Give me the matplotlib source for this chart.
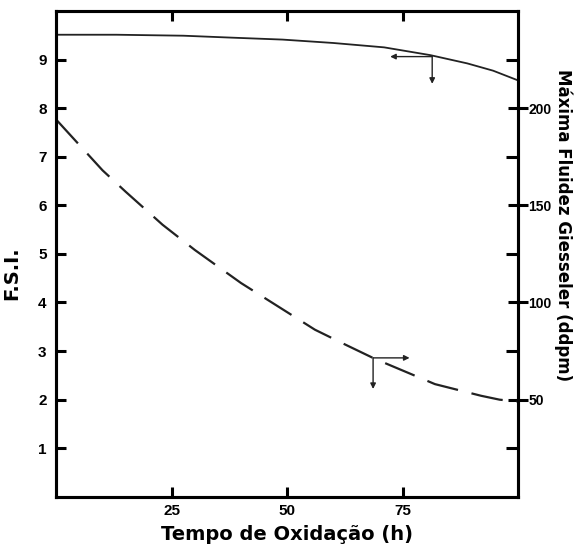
import matplotlib.pyplot as plt
from matplotlib.ticker import FixedLocator

# F.S.I. (left axis) vs oxidation time
fsi_time = [0, 13, 27.5, 38, 49, 60, 71, 81, 89, 94.6, 100]
fsi_vals = [9.51, 9.51, 9.49, 9.45, 9.41, 9.34, 9.25, 9.09, 8.92, 8.77, 8.57]

# Max Gieseler fluidity (right axis, ddpm)
flu_time = [0, 5, 10, 15, 23, 30, 40, 46, 56, 62, 69, 75, 82, 87, 92, 96, 100]
flu_vals = [194, 181, 168, 157, 140, 127, 110, 101, 86, 79, 71, 65, 58, 55, 52, 50, 49]

x_ticks = [25, 50, 75]
left_ticks = [1, 2, 3, 4, 5, 6, 7, 8, 9]
right_major = [50, 100, 150, 200]
right_minor = [25, 75, 125, 175, 225]

fig = plt.figure(figsize=(5.75, 5.46), dpi=100)
ax = fig.add_axes([0.098, 0.090, 0.803, 0.890])
ax2 = ax.twinx()

ax.plot(fsi_time, fsi_vals, color="#222222", lw=1.3)
lw = 1.6
line, = ax2.plot(flu_time, flu_vals, color="#222222", lw=lw)
line.set_dashes((23 / lw, 10 / lw))

ax.set_xlim(0, 100)
ax.set_ylim(0, 10)
ax2.set_ylim(0, 250)

# arrows showing which axis each curve belongs to
arr = dict(arrowstyle="-|>", color="#222222", lw=1.0, mutation_scale=8, shrinkA=0, shrinkB=0)
ax.annotate("", xy=(72.3, 9.06), xytext=(81.4, 9.06), arrowprops=arr)
ax.annotate("", xy=(81.4, 8.50), xytext=(81.4, 9.06), arrowprops=arr)
ax2.annotate("", xy=(76.5, 71.5), xytext=(68.6, 71.5), arrowprops=arr)
ax2.annotate("", xy=(68.6, 55.5), xytext=(68.6, 71.5), arrowprops=arr)

for a in (ax, ax2):
    for s in a.spines.values():
        s.set_linewidth(2.2)

ax.set_xticks(x_ticks)
ax.set_yticks(left_ticks)
ax.tick_params(axis="both", direction="in", width=2.2, length=7, pad=5,
               top=True, labelsize=11)
ax.tick_params(axis="y", pad=7)
for lab in ax.get_xticklabels() + ax.get_yticklabels():
    lab.set_fontfamily("Liberation Sans")
    lab.set_fontweight("bold")

ax2.yaxis.set_major_locator(FixedLocator(right_major))
ax2.yaxis.set_minor_locator(FixedLocator(right_minor))
ax2.tick_params(axis="y", which="major", direction="inout", width=2.2, length=14,
                pad=0.5, labelsize=10)
ax2.tick_params(axis="y", which="minor", direction="in", width=2.2, length=9)
for lab in ax2.get_yticklabels():
    lab.set_fontfamily("Liberation Sans")
    lab.set_fontweight("bold")

ax.set_xlabel("Tempo de Oxidação (h)", fontsize=14, fontweight="bold",
              fontfamily="DejaVu Sans", labelpad=5)
ax.set_ylabel("F.S.I.", fontsize=14, fontweight="bold", fontfamily="DejaVu Sans")
ax.yaxis.set_label_coords(-0.075, 0.46)
ax2.set_ylabel("Máxima Fluidez Giesseler (ddpm)", fontsize=12, fontweight="bold",
               fontfamily="DejaVu Sans", rotation=-90, va="center", ha="center")
ax2.yaxis.set_label_coords(1.097, 0.56)

fig.savefig("out.png", dpi=100)
